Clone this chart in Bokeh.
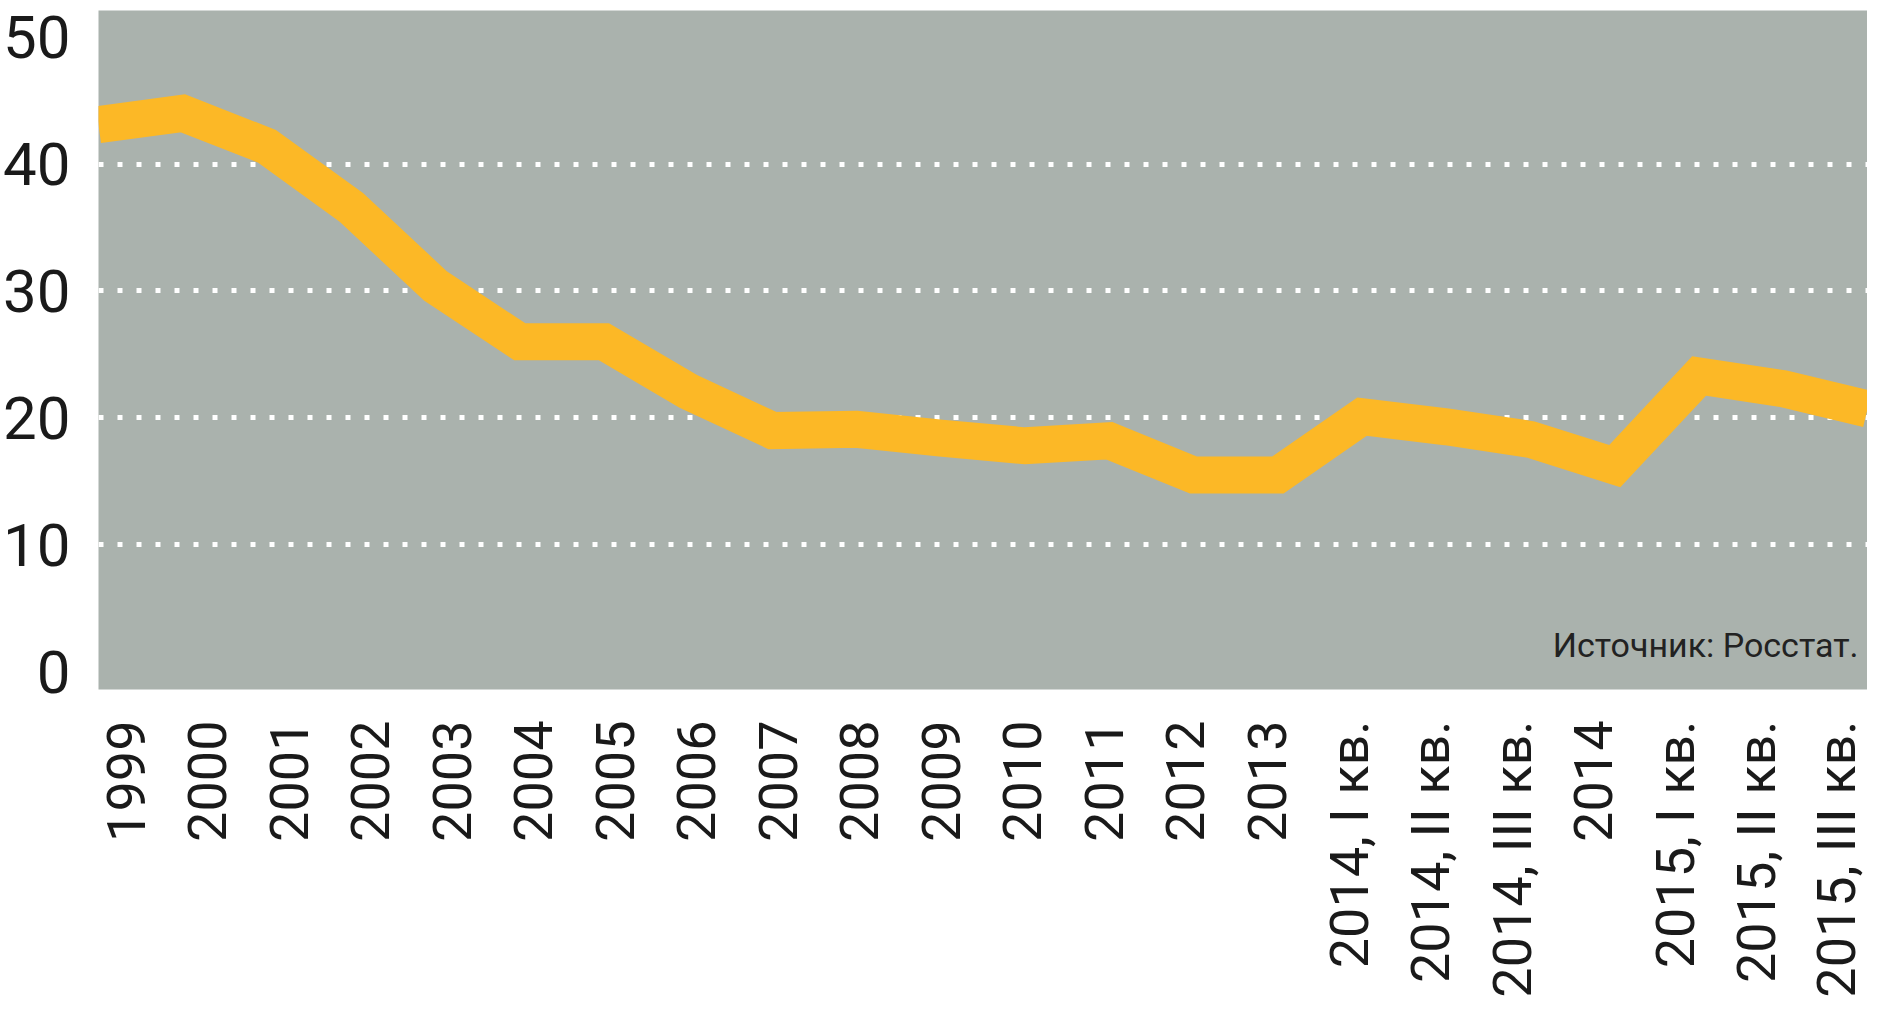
from bokeh.plotting import figure
from bokeh.models import Range1d, FixedTicker, Label
from bokeh.embed import file_html
from bokeh.resources import INLINE
from math import pi

# ---- data ----
categories = ["1999", "2000", "2001", "2002", "2003", "2004", "2005", "2006",
              "2007", "2008", "2009", "2010", "2011", "2012", "2013",
              "2014, I кв.", "2014, II кв.", "2014, III кв.", "2014",
              "2015, I кв.", "2015, II кв.", "2015, III кв."]
values = [43.1, 44.0, 41.4, 36.6, 30.4, 26.0, 26.0, 22.1, 19.0, 19.1, 18.4,
          17.8, 18.2, 15.5, 15.5, 20.1, 19.3, 18.3, 16.2, 23.3, 22.3, 20.7]
y_ticks = [0, 10, 20, 30, 40, 50]
grid_values = [10, 20, 30, 40]
source_text = "Источник: Росстат."

idx = list(range(len(categories)))

p = figure(width=1867, height=1000, output_backend="svg", toolbar_location=None,
           x_range=Range1d(-0.34, 21.36), y_range=Range1d(-1.4, 52.1),
           min_border_left=84, min_border_top=10, min_border_right=0,
           min_border_bottom=308)
p.extra_x_ranges = {"line": Range1d(0, len(categories) - 1)}

p.background_fill_color = "#aab2ad"
p.border_fill_color = "white"
p.outline_line_color = None

# grid
p.xgrid.visible = False
p.ygrid.ticker = FixedTicker(ticks=grid_values)
p.ygrid.grid_line_color = "white"
p.ygrid.grid_line_width = 5
p.ygrid.grid_line_dash = "5 14"

# x axis
p.xaxis.ticker = FixedTicker(ticks=idx)
p.xaxis.major_label_overrides = {i: c for i, c in zip(idx, categories)}
p.xaxis.major_label_orientation = pi / 2
p.xaxis.major_label_text_font = "Roboto"
p.xaxis.major_label_text_font_size = "54px"
p.xaxis.major_label_text_color = "#1a1a1a"
p.xaxis.major_label_standoff = 25
p.xaxis.axis_line_color = None
p.xaxis.major_tick_line_color = None
p.xaxis.minor_tick_line_color = None

# y axis
p.yaxis.ticker = FixedTicker(ticks=y_ticks)
p.yaxis.major_label_text_font = "Roboto"
p.yaxis.major_label_text_font_size = "60px"
p.yaxis.major_label_text_color = "#1a1a1a"
p.yaxis.major_label_standoff = 22
p.yaxis.axis_line_color = None
p.yaxis.major_tick_line_color = None
p.yaxis.minor_tick_line_color = None

# line
p.line(x=idx, y=values, x_range_name="line", line_color="#fcb826",
       line_width=37, line_join="miter")

# source note
p.add_layout(Label(x=21.25, y=2.1, text=source_text, text_align="right",
                   text_baseline="alphabetic", text_font="Roboto",
                   text_font_size="34px", text_color="#222222"))

open("out.html", "w").write(file_html(p, INLINE))
